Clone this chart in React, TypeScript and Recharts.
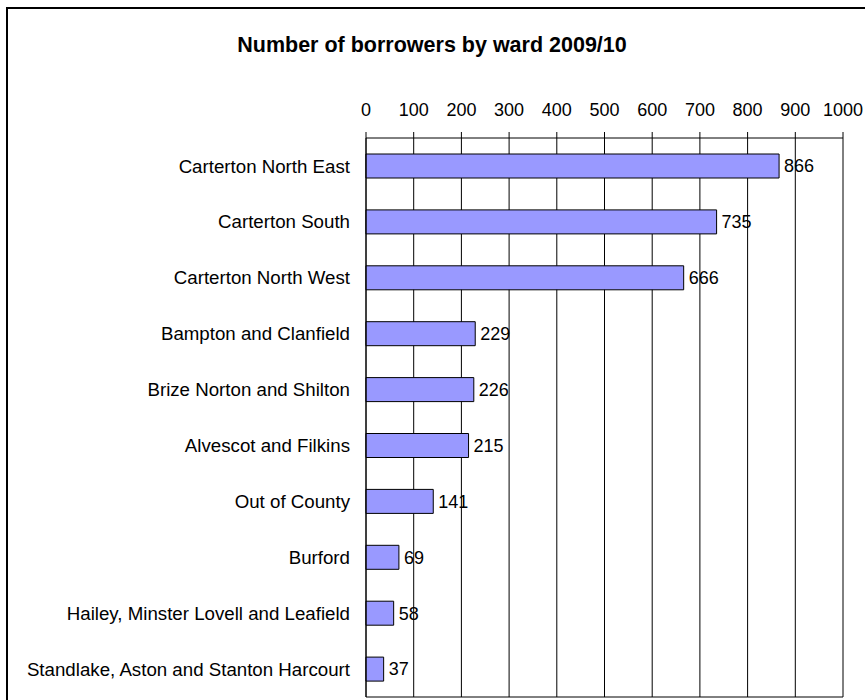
import React from 'react';
import { BarChart, Bar, XAxis, YAxis, CartesianGrid, LabelList } from 'recharts';

const wards = [
  'Carterton North East',
  'Carterton South',
  'Carterton North West',
  'Bampton and Clanfield',
  'Brize Norton and Shilton',
  'Alvescot and Filkins',
  'Out of County',
  'Burford',
  'Hailey, Minster Lovell and Leafield',
  'Standlake, Aston and Stanton Harcourt',
];

const borrowers = [866, 735, 666, 229, 226, 215, 141, 69, 58, 37];

const xTicks = [0, 100, 200, 300, 400, 500, 600, 700, 800, 900, 1000];

const data = wards.map((name, i) => ({ name, value: borrowers[i] }));

const font = '"Liberation Sans", Arial, sans-serif';

const App: React.FC = () => {
  return (
    <div
      style={{
        position: 'absolute',
        left: 0,
        top: 0,
        width: 865,
        height: 700,
        overflow: 'hidden',
        background: '#fff',
        fontFamily: font,
      }}
    >
      <div
        style={{
          position: 'absolute',
          left: 6,
          top: 7,
          width: 900,
          height: 720,
          borderTop: '2px solid #000',
          borderLeft: '2px solid #000',
        }}
      />
      <div
        style={{
          position: 'absolute',
          left: 0,
          top: 34,
          width: 864,
          textAlign: 'center',
          fontSize: 21.5,
          lineHeight: '22px',
          fontWeight: 'bold',
          color: '#000',
        }}
      >
        Number of borrowers by ward 2009/10
      </div>
      <div style={{ position: 'absolute', left: 0, top: 0 }}>
        <BarChart
          width={865}
          height={700}
          data={data}
          layout="vertical"
          margin={{ top: 98, right: 22, bottom: 3, left: 5 }}
        >
          <CartesianGrid
            stroke="#000"
            horizontalCoordinatesGenerator={({ offset }: any) => [offset.top + offset.height]}
          />
          <XAxis
            type="number"
            orientation="top"
            domain={[0, 1000]}
            ticks={xTicks}
            interval={0}
            height={40}
            tickSize={6}
            tickMargin={16}
            axisLine={{ stroke: '#000' }}
            tickLine={{ stroke: '#000' }}
            tick={{ fill: '#000', fontSize: 18, fontFamily: font }}
          />
          <YAxis
            type="category"
            dataKey="name"
            width={361}
            interval={0}
            tickSize={0}
            tickMargin={16}
            tickLine={false}
            axisLine={{ stroke: '#000' }}
            tick={{ fill: '#000', fontSize: 18.7, fontFamily: font }}
          />
          <Bar
            dataKey="value"
            fill="#9999FF"
            stroke="#000"
            strokeWidth={1}
            barSize={24}
            isAnimationActive={false}
          >
            <LabelList
              dataKey="value"
              position="right"
              offset={5}
              fill="#000"
              fontSize={18}
              fontFamily={font}
            />
          </Bar>
        </BarChart>
      </div>
    </div>
  );
};

export default App;
